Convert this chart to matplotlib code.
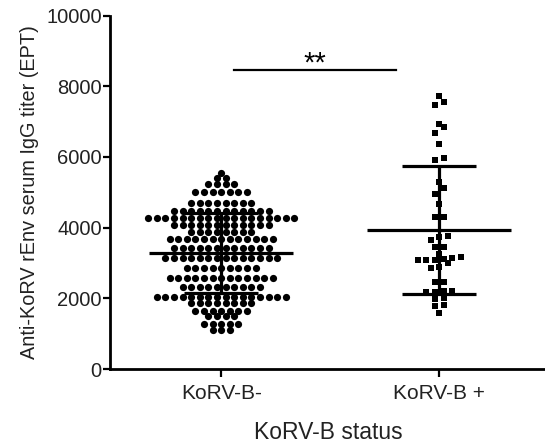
import numpy as np
import matplotlib
matplotlib.use('Agg')
import matplotlib.pyplot as plt

plt.rcParams['font.family'] = ['Liberation Sans', 'DejaVu Sans']

groups = ['KoRV-B-', 'KoRV-B +']

# KoRV-B- animals: titer rows of the dot plot and how many dots sit on each row
neg_levels = [5540, 5400, 5220, 5000, 4700, 4480, 4280, 4080, 3880, 3680, 3430,
              3150, 2860, 2580, 2320, 2040, 1870, 1640, 1500, 1270, 1100]
neg_counts = [1, 2, 4, 7, 8, 12, 18, 12, 8, 13, 12,
              14, 9, 13, 10, 16, 8, 7, 4, 5, 3]

# KoRV-B + animals (squares)
pos_values = [7714, 7545, 7480, 6940, 6850, 6690, 6375, 5970, 5900, 5280,
              5120, 4960, 4670, 4310, 4290, 3750, 3740, 3650, 3460, 3450,
              3260, 3135, 2990, 3090, 2850, 3090, 2880, 3070, 3110, 3165,
              2475, 2470, 2200, 2190, 2180, 2195, 2000, 1970, 1810, 1785, 1595]

neg_values = np.repeat(neg_levels, neg_counts)

fig = plt.figure(figsize=(5.45, 4.43), dpi=100)
ax = fig.add_axes([0.202, 0.167, 0.80, 0.798])

ax.set_xlim(-0.51, 1.49)
ax.set_ylim(0, 10000)

# pixels per data unit, used to lay the dots out side by side
px_x = 0.80 * 545 / 2.0
px_y = 0.798 * 443 / 10000.0


def row_offsets(values, row_h, gap=8.6):
    # GraphPad-like scatter: dots close in value share a row, centred on the group
    vals = np.asarray(values, dtype=float)
    order = np.argsort(vals)
    offs = np.zeros(len(vals))
    rows = []
    for i in order:
        if rows and (vals[i] - vals[rows[-1][0]]) * px_y <= row_h:
            rows[-1].append(i)
        else:
            rows.append([i])
    for r in rows:
        n = len(r)
        for j, i in enumerate(r):
            offs[i] = (j - (n - 1) / 2.0) * gap
    return offs / px_x


for xi, vals, mk, rh in [(0, neg_values, 'o', 4.0), (1, np.array(pos_values), 's', 6.0)]:
    dx = row_offsets(vals, rh)
    ax.plot(xi + dx, vals, linestyle='none', marker=mk, color='black',
            markersize=5.2 if mk == 'o' else 5.0, markeredgewidth=0, zorder=2)
    m = np.mean(vals)
    s = np.std(vals, ddof=1)
    ax.hlines(m, xi - 0.33, xi + 0.33, color='black', lw=2.3, zorder=3)
    ax.hlines([m - s, m + s], xi - 0.17, xi + 0.17, color='black', lw=2.3, zorder=3)
    ax.vlines(xi, m - s, m + s, color='black', lw=2.3, zorder=3)

# significance bar
ax.plot([0.06, 0.80], [8470, 8470], color='black', lw=1.6, clip_on=False)
ax.text(0.43, 8420, '**', ha='center', va='baseline', fontsize=21)

ax.set_xticks([0, 1])
ax.set_xticklabels(groups, fontsize=15, color='#222222')
ax.set_yticks(np.arange(0, 10001, 2000))
ax.tick_params(axis='y', labelsize=14.5, labelcolor='#222222', length=5, width=1.6, pad=1)
ax.tick_params(axis='x', length=6, width=1.6, pad=5)

ax.set_ylabel('Anti-KoRV rEnv serum IgG titer (EPT)', fontsize=14.3, color='#222222', labelpad=5)
ax.set_xlabel('KoRV-B status', fontsize=16.5, color='#222222', labelpad=13)

for side in ['top', 'right']:
    ax.spines[side].set_visible(False)
for side in ['left', 'bottom']:
    ax.spines[side].set_linewidth(2.0)

plt.savefig('out.png', dpi=100)
